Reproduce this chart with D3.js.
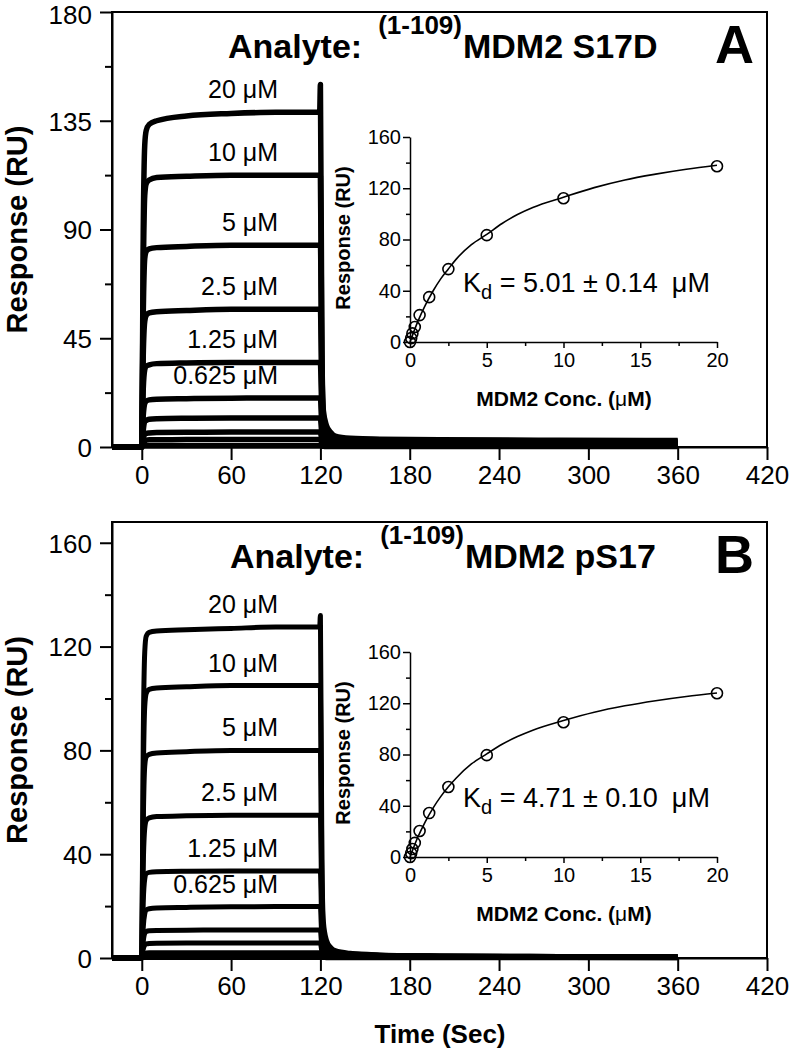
<!DOCTYPE html>
<html>
<head>
<meta charset="utf-8">
<script src="https://cdn.jsdelivr.net/npm/d3@7"></script>
<style>
  body { margin: 0; background: #fff; }
  svg { display: block; }
  text { font-family: "Liberation Sans", Arial, sans-serif; fill: #000; }
</style>
</head>
<body>
<svg id="chart" width="791" height="1050"></svg>
<script>
// ---------------- DATA ----------------
const concentrations = [20, 10, 5, 2.5, 1.25, 0.625, 0.3125, 0.156, 0.078, 0];
const concLabels = ["20 μM", "10 μM", "5 μM", "2.5 μM", "1.25 μM", "0.625 μM"];

// sensorgram time points (s)
const timePts = [-20, -1, 0, 1, 2, 3, 5, 10, 30, 60, 90, 119.5, 120, 121, 122, 124, 127, 130, 140, 160, 200, 280, 360];

// Panel A responses (RU), one array per concentration
const respA20   = [0,0,0,90,125,131,133.5,135,137,138,138.5,138.5,150,40,15,9,6,4.5,3.6,3.2,3,2.8,2.7];
const respA10   = [0,0,0,70,104,109,110.5,111.5,112,112.5,112.5,112.5,112,35,13,8,5.5,4,3.3,3,2.7,2.5,2.4];
const respA5    = [0,0,0,55,78,81,82,82.5,83,83.5,83.5,83.5,83,28,11,7,4.8,3.6,3,2.6,2.4,2.2,2.1];
const respA2_5  = [0,0,0,38,52,54.5,55.5,56,56.5,57,57,57,56.5,20,8,5.5,4,3,2.5,2.2,2,1.8,1.7];
const respA1_25 = [0,0,0,24,32,33.5,34,34.5,34.8,35,35,35,34.5,13,6,4.2,3.2,2.5,2,1.8,1.6,1.4,1.3];
const respA0_63 = [0,0,0,13,18,19,19.5,19.8,20,20.2,20.3,20.3,20,8,4.5,3.2,2.6,2.1,1.7,1.5,1.3,1.1,1];
const respA0_31 = [0,0,0,7,10.5,11,11.5,11.7,11.9,12,12,12,11.8,5,3,2.3,1.9,1.6,1.3,1.1,1,0.9,0.8];
const respA0_16 = [0,0,0,3.5,5.2,5.6,5.8,6,6.1,6.2,6.2,6.2,6,3,2,1.6,1.4,1.2,1,0.9,0.8,0.7,0.6];
const respA0_08 = [0,0,0,1.5,2.5,2.8,3,3,3.1,3.1,3.1,3.1,3,1.6,1.2,1,0.9,0.8,0.7,0.6,0.5,0.4,0.4];
const respA0    = [0,0,0,0.4,0.5,0.5,0.5,0.5,0.5,0.5,0.5,0.5,0.5,0.3,0.3,0.2,0.2,0.2,0.2,0.2,0.2,0.2,0.2];

// Panel B responses (RU)
const respB20   = [0,0,0,85,118,124,125.5,126,126.5,127,127.5,127.5,132,38,14,7,4,2.8,1.8,1.2,0.8,0.6,0.5];
const respB10   = [0,0,0,68,97,102,103.5,104,104.5,105,105,105,104.5,30,11,6,3.6,2.5,1.6,1.1,0.8,0.6,0.5];
const respB5    = [0,0,0,52,74,77.5,78.5,79,79.5,80,80,80,79.5,24,9,5,3.2,2.2,1.4,1,0.7,0.5,0.4];
const respB2_5  = [0,0,0,36,50,53,54,54.5,54.8,55,55,55,54.5,17,7,4,2.7,2,1.3,0.9,0.7,0.5,0.4];
const respB1_25 = [0,0,0,22,30.5,32.5,33,33.2,33.4,33.5,33.5,33.5,33,11,5,3,2.2,1.7,1.1,0.8,0.6,0.4,0.3];
const respB0_63 = [0,0,0,12,17,18.5,19,19.3,19.5,19.7,19.8,19.8,19.5,7,3.5,2.4,1.8,1.4,1,0.7,0.5,0.4,0.3];
const respB0_31 = [0,0,0,6.5,9.5,10.2,10.5,10.6,10.7,10.8,10.8,10.8,10.6,4,2.5,1.8,1.4,1.1,0.8,0.6,0.4,0.3,0.2];
const respB0_16 = [0,0,0,3.5,5,5.4,5.6,5.7,5.8,5.8,5.8,5.8,5.7,2.5,1.6,1.3,1,0.8,0.6,0.5,0.3,0.2,0.2];
const respB0_08 = [0,0,0,1.3,1.8,1.9,2,2,2,2,2,2,2,1,0.8,0.6,0.5,0.4,0.3,0.3,0.2,0.2,0.1];
const respB0    = [0,0,0,0.2,0.2,0.2,0.2,0.2,0.2,0.2,0.2,0.2,0.2,0.2,0.2,0.1,0.1,0.1,0.1,0.1,0.1,0.1,0.1];

// Inset: steady-state response vs concentration (RU)
const insetConc  = [0, 0.078, 0.156, 0.3125, 0.625, 1.25, 2.5, 5, 10, 20];
const insetRespA = [0, 3, 6.7, 11.7, 21, 35, 56.9, 83.4, 112.2, 137.2];
const insetRespB = [0, 3, 6.2, 11, 20.3, 34.3, 54.6, 79.5, 105.2, 127.8];

// Inset fitted curves
const fitConc  = [0, 0.5, 1, 1.5, 2, 2.5, 3, 4, 5, 6, 7, 8, 10, 12, 14, 16, 18, 20];
const fitRespA = [0, 15.7, 28.7, 39.8, 49.3, 57, 64.5, 76, 84, 92.5, 99.5, 105, 113, 120.5, 126.5, 131, 134.8, 138];
const fitRespB = [0, 15.2, 27.7, 38.2, 47.1, 54.8, 61.5, 72.6, 80.5, 88, 94, 99, 106.5, 113, 118, 122, 125.3, 128];

// Ticks
const timeTicks = [0, 60, 120, 180, 240, 300, 360, 420];
const yTicksA = [0, 45, 90, 135, 180];
const yMinorA = [22.5, 67.5, 112.5, 157.5];
const yTicksB = [0, 40, 80, 120, 160];
const yMinorB = [20, 60, 100, 140];
const insetXTicks = [0, 5, 10, 15, 20];
const insetXMinor = [2.5, 7.5, 12.5, 17.5];
const insetYTicks = [0, 40, 80, 120, 160];
const insetYMinor = [20, 60, 100, 140];

const titleSupA = "(1-109)", titleMainA = "MDM2 S17D", panelA = "A";
const titleSupB = "(1-109)", titleMainB = "MDM2 pS17", panelB = "B";
const kdA = "5.01 ± 0.14", kdB = "4.71 ± 0.10";

// ---------------- DRAW ----------------
const svg = d3.select("#chart");
svg.append("rect").attr("width", 791).attr("height", 1050).attr("fill", "#fff");
const FONT = '"Liberation Sans", Arial, sans-serif';

function styleAxis(g, size) {
  g.attr("font-family", FONT).attr("font-size", size);
  g.selectAll("text").attr("fill", "#000");
  g.selectAll("line").attr("stroke", "#000");
  g.select(".domain").attr("stroke", "#000");
}

function panel(opt) {
  const x = d3.scaleLinear().domain([-20, 420]).range([112, 767]);
  const y = d3.scaleLinear().domain([0, opt.yMax]).range([opt.bottom, opt.top]);
  const g = svg.append("g");

  // frame
  g.append("rect").attr("x", 112).attr("y", opt.top).attr("width", 767 - 112)
    .attr("height", opt.bottom - opt.top).attr("fill", "none").attr("stroke", "#000").attr("stroke-width", 2);

  // sensorgrams
  const line = d3.line().x((d, i) => x(timePts[i])).y(d => y(d)).curve(d3.curveMonotoneX);
  g.selectAll("path.sg").data(opt.series).join("path").attr("class", "sg")
    .attr("d", d => line(d)).attr("fill", "none").attr("stroke", "#000")
    .attr("stroke-width", opt.lw).attr("stroke-linejoin", "round");

  // concentration labels
  g.selectAll("text.cl").data(concLabels).join("text").attr("class", "cl")
    .attr("x", 278).attr("y", (d, i) => y(opt.series[i][10]) - 14)
    .attr("text-anchor", "end").attr("font-size", 25).text(d => d);

  // axes
  const ax = g.append("g").attr("transform", `translate(0,${opt.bottom})`)
    .call(d3.axisBottom(x).tickValues(timeTicks).tickSize(13).tickSizeOuter(0).tickPadding(6).tickFormat(d3.format("d")));
  styleAxis(ax, 26);
  ax.selectAll("line, .domain").attr("stroke-width", 2);
  const ay = g.append("g").attr("transform", "translate(112,0)")
    .call(d3.axisLeft(y).tickValues(opt.yTicks).tickSize(12).tickSizeOuter(0).tickPadding(8).tickFormat(d3.format("d")));
  styleAxis(ay, 26);
  ay.selectAll("line, .domain").attr("stroke-width", 2);
  ay.selectAll("text").attr("dy", "0.36em");
  // keep the topmost label of panel A inside the page
  ay.selectAll("text").filter(d => y(d) < 20).attr("dy", "0.46em");
  const aym = g.append("g").attr("transform", "translate(112,0)")
    .call(d3.axisLeft(y).tickValues(opt.yMinor).tickSize(7).tickSizeOuter(0).tickFormat(""));
  styleAxis(aym, 26);
  aym.selectAll("line").attr("stroke-width", 2);
  aym.select(".domain").remove();

  g.append("text").attr("transform", `translate(27,${(opt.top + opt.bottom) / 2}) rotate(-90)`)
    .attr("text-anchor", "middle").attr("font-size", 29).attr("font-weight", "bold").text("Response (RU)");

  // title
  const t = g.append("text").attr("x", opt.titleX).attr("y", opt.top + 46)
    .attr("font-size", 34).attr("font-weight", "bold");
  t.append("tspan").text("Analyte:");
  t.append("tspan").attr("dx", 16).attr("dy", -24).attr("font-size", 26).text(opt.sup);
  t.append("tspan").attr("dx", 1).attr("dy", 24).text(opt.main);
  g.append("text").attr("x", 715).attr("y", opt.top + 51).attr("font-size", 54)
    .attr("font-weight", "bold").text(opt.letter);

  // inset
  const xi = d3.scaleLinear().domain([0, 20]).range([410, 717]);
  const yi = d3.scaleLinear().domain([0, 160]).range([opt.iBottom, opt.iBottom - 205]);
  const ix = g.append("g").attr("transform", `translate(0,${opt.iBottom})`)
    .call(d3.axisBottom(xi).tickValues(insetXTicks).tickSize(6).tickSizeOuter(0).tickPadding(5).tickFormat(d3.format("d")));
  styleAxis(ix, 20);
  ix.selectAll("line, .domain").attr("stroke-width", 1.5);
  const ixm = g.append("g").attr("transform", `translate(0,${opt.iBottom})`)
    .call(d3.axisBottom(xi).tickValues(insetXMinor).tickSize(4).tickSizeOuter(0).tickFormat(""));
  styleAxis(ixm, 20);
  ixm.selectAll("line").attr("stroke-width", 1.5);
  ixm.select(".domain").remove();
  const iy = g.append("g").attr("transform", "translate(410,0)")
    .call(d3.axisLeft(yi).tickValues(insetYTicks).tickSize(7).tickSizeOuter(0).tickPadding(2).tickFormat(d3.format("d")));
  styleAxis(iy, 20);
  iy.selectAll("line, .domain").attr("stroke-width", 1.5);
  const iym = g.append("g").attr("transform", "translate(410,0)")
    .call(d3.axisLeft(yi).tickValues(insetYMinor).tickSize(4).tickSizeOuter(0).tickFormat(""));
  styleAxis(iym, 20);
  iym.selectAll("line").attr("stroke-width", 1.5);
  iym.select(".domain").remove();

  const fl = d3.line().x((d, i) => xi(fitConc[i])).y(d => yi(d)).curve(d3.curveMonotoneX);
  g.append("path").attr("d", fl(opt.fit)).attr("fill", "none").attr("stroke", "#000").attr("stroke-width", 1.6);
  g.selectAll("circle.pt").data(opt.pts).join("circle").attr("class", "pt")
    .attr("cx", (d, i) => xi(insetConc[i])).attr("cy", d => yi(d)).attr("r", 5.5)
    .attr("fill", "none").attr("stroke", "#000").attr("stroke-width", 1.6);

  g.append("text").attr("transform", `translate(350,${opt.iBottom - 104}) rotate(-90)`)
    .attr("text-anchor", "middle").attr("font-size", 20).attr("font-weight", "bold").text("Response (RU)");
  const xt = g.append("text").attr("x", 564).attr("y", opt.iBottom + 64).attr("text-anchor", "middle")
    .attr("font-size", 21).attr("font-weight", "bold");
  xt.append("tspan").text("MDM2 Conc. (");
  xt.append("tspan").attr("font-weight", "normal").text("μ");
  xt.append("tspan").text("M)");

  const kd = g.append("text").attr("x", 463).attr("y", opt.iBottom - 50).attr("font-size", 27);
  kd.append("tspan").text("K");
  kd.append("tspan").attr("font-size", 20).attr("dy", 7).text("d");
  kd.append("tspan").attr("dy", -7).text(" = " + opt.kd);
  kd.append("tspan").attr("dx", 14).text("μM");

  if (opt.xTitle) {
    g.append("text").attr("x", 440).attr("y", opt.bottom + 85).attr("text-anchor", "middle")
      .attr("font-size", 26).attr("font-weight", "bold").text("Time (Sec)");
  }
}

panel({
  top: 12, bottom: 447, yMax: 180, yTicks: yTicksA, yMinor: yMinorA, lw: 5.5,
  series: [respA20, respA10, respA5, respA2_5, respA1_25, respA0_63, respA0_31, respA0_16, respA0_08, respA0],
  titleX: 228, sup: titleSupA, main: titleMainA, letter: panelA,
  iBottom: 342, fit: fitRespA, pts: insetRespA, kd: kdA, xTitle: false
});
panel({
  top: 522, bottom: 958, yMax: 168, yTicks: yTicksB, yMinor: yMinorB, lw: 5,
  series: [respB20, respB10, respB5, respB2_5, respB1_25, respB0_63, respB0_31, respB0_16, respB0_08, respB0],
  titleX: 230, sup: titleSupB, main: titleMainB, letter: panelB,
  iBottom: 857, fit: fitRespB, pts: insetRespB, kd: kdB, xTitle: true
});
</script>
</body>
</html>
